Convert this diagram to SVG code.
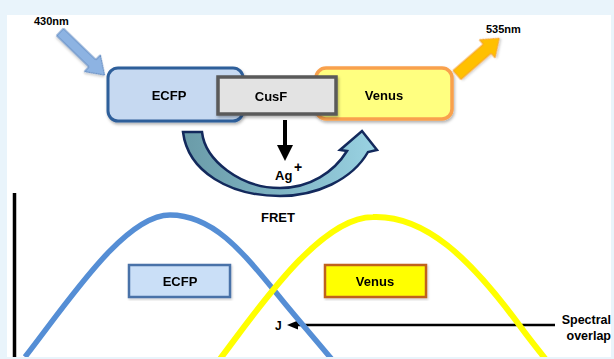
<svg xmlns="http://www.w3.org/2000/svg" width="614" height="359" viewBox="0 0 614 359">
  <style>
    .lbl { font-family: "Liberation Sans", Arial, sans-serif; font-weight: bold; fill: #000; }
    .c { text-anchor: middle; }
    .e { text-anchor: end; }
  </style>
  <defs>
    <filter id="sh" x="-20%" y="-20%" width="140%" height="150%">
      <feDropShadow dx="1" dy="2" stdDeviation="1.5" flood-color="#000" flood-opacity="0.3"/>
    </filter>
    <filter id="sh2" x="-10%" y="-10%" width="120%" height="120%">
      <feDropShadow dx="1" dy="1.5" stdDeviation="1" flood-color="#000" flood-opacity="0.2"/>
    </filter>
    <linearGradient id="curv" x1="0" y1="0" x2="1" y2="0">
      <stop offset="0" stop-color="#6A9BA8"/>
      <stop offset="0.5" stop-color="#7FB4C3"/>
      <stop offset="1" stop-color="#9AD3E3"/>
    </linearGradient>
    <clipPath id="plot">
      <rect x="7" y="15" width="604" height="342"/>
    </clipPath>
  </defs>

  <!-- background -->
  <rect x="0" y="0" width="614" height="359" fill="#E9F4FB"/>
  <rect x="7" y="15" width="604" height="342" fill="#FFFFFF"/>

  <!-- connectors -->
  <g id="connectors">
    <!-- 430nm excitation arrow -->
    <polygon transform="translate(60,32) rotate(44)" points="0,-5 45,-5 45,-11.5 62,0 45,11.5 45,5 0,5" fill="#8DB3E2" stroke="#5E87BF" stroke-width="1" filter="url(#sh2)"/>
    <!-- 535nm emission arrow -->
    <polygon transform="translate(457,75) rotate(-41)" points="0,-6 40,-6 40,-12 56,0 40,12 40,6 0,6" fill="#FFC000" stroke="#F7A030" stroke-width="1" filter="url(#sh2)"/>
    <!-- Ag+ down arrow -->
    <polygon points="283,120 287,120 287,145 293,145 285,161 277,145 283,145" fill="#000"/>
    <!-- FRET curved arrow -->
    <path d="M183,132 L202,132 C205,160 240,188 280,188 C310,188 334,172 347,151 L340,150 L362,131 L377,150 L368,152 C352,180 316,196 280,196 C230,196 188,172 183,132 Z" fill="url(#curv)" stroke="#13295C" stroke-width="2.5" stroke-linejoin="miter"/>
    <!-- spectral overlap arrow -->
    <line x1="555" y1="325" x2="296" y2="325" stroke="#000" stroke-width="2.5"/>
    <polygon points="287,325 298,320.5 298,329.5" fill="#000"/>
  </g>

  <!-- axis -->
  <g id="axis">
    <line x1="14.5" y1="193" x2="14.5" y2="357" stroke="#000" stroke-width="3.5"/>
  </g>

  <!-- spectra -->
  <g id="spectra" clip-path="url(#plot)" fill="none">
    <path d="M25,357 C70,299 125,215 170,215 C215,215 245,255 282,300 C295,316 320,345 345,375" stroke="#558ED5" stroke-width="5.5"/>
    <path d="M220,359 C258,309 320,217 373,217 C425,215 470,258 520,326 C530,340 545,358 560,378" stroke="#FFFF00" stroke-width="6"/>
  </g>

  <!-- top nodes -->
  <g id="node-ecfp" filter="url(#sh)">
    <rect x="108" y="68" width="135" height="53" rx="10" fill="#C6D9F1" stroke="#2F5E9A" stroke-width="3"/>
    <text class="lbl c" x="169" y="100" font-size="13">ECFP</text>
  </g>
  <g id="node-venus" filter="url(#sh)">
    <rect x="316" y="68" width="136" height="51" rx="10" fill="#FFFF80" stroke="#F9A14D" stroke-width="3.5"/>
    <text class="lbl c" x="384" y="100" font-size="13">Venus</text>
  </g>
  <g id="node-cusf" filter="url(#sh)">
    <rect x="218" y="77" width="118" height="37" fill="#E3E3E3" stroke="#5A5A5A" stroke-width="3.5"/>
    <text class="lbl c" x="271" y="101" font-size="13">CusF</text>
  </g>

  <!-- labels -->
  <g id="label-430"><text class="lbl" x="34" y="25" font-size="11">430nm</text></g>
  <g id="label-535"><text class="lbl" x="486" y="33" font-size="11">535nm</text></g>
  <g id="label-ag">
    <text class="lbl" x="275" y="180" font-size="13">Ag</text>
    <text class="lbl c" x="298" y="172" font-size="14">+</text>
  </g>
  <g id="label-fret"><text class="lbl c" x="278" y="222" font-size="13">FRET</text></g>

  <!-- legend nodes -->
  <g id="legend-ecfp" filter="url(#sh2)">
    <rect x="129" y="265" width="101" height="32" fill="#CADFF7" stroke="#4A72A8" stroke-width="2.5"/>
    <text class="lbl c" x="180" y="286" font-size="13">ECFP</text>
  </g>
  <g id="legend-venus" filter="url(#sh2)">
    <rect x="325" y="265" width="101" height="32" fill="#FFFF00" stroke="#C0621E" stroke-width="2.5"/>
    <text class="lbl c" x="375" y="286" font-size="13">Venus</text>
  </g>

  <g id="label-j"><text class="lbl" x="275" y="330" font-size="12">J</text></g>
  <g id="label-spectral">
    <text class="lbl e" x="611" y="324" font-size="12.5">Spectral</text>
    <text class="lbl e" x="611" y="340" font-size="12.5">overlap</text>
  </g>
</svg>
